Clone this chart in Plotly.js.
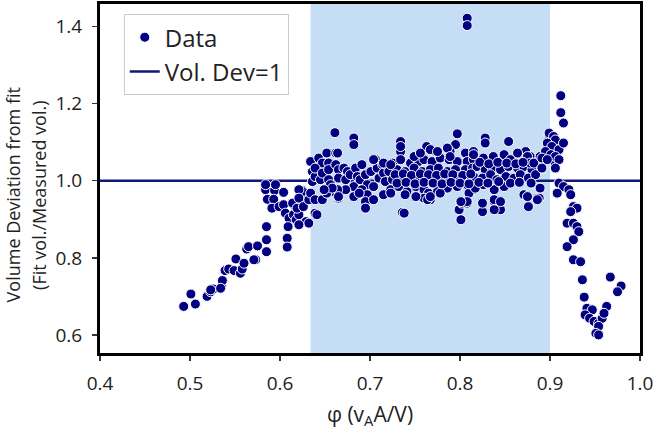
<!DOCTYPE html>
<html>
<head>
<meta charset="utf-8">
<script src="https://cdn.plot.ly/plotly-3.0.1.min.js"></script>
<style>html,body{margin:0;padding:0;background:#fff;}#chart{width:666px;height:434px;}</style>
</head>
<body>
<div id="chart"></div>
<script>
// ---- Data ----
const xTickVals = [0.4, 0.5, 0.6, 0.7, 0.8, 0.9, 1.0];
const yTickVals = [0.6, 0.8, 1.0, 1.2, 1.4];
const refLevel = 1.0;             // Vol. Dev = 1
const refSpan = [0.4, 1.0];       // line spans the whole x axis
const shadeSpan = [0.634, 0.9];   // highlighted phi band
const yTitleLines = ['Volume Deviation from fit', '(Fit vol./Measured vol.)'];

// rising branch (phi < 0.63)
const phiLow = [0.493,0.501,0.506,0.519,0.523,0.526,0.535,0.536,0.539,0.543,0.549,0.556,0.558,0.551,0.560,0.573,0.563,0.565,0.575,0.585,0.585,0.585,
  0.584,0.594,0.586,0.593,0.604,0.584,0.595,0.591,0.599,0.604,0.606,0.610,0.609,0.615,0.618,0.621,0.617,0.608,0.608,0.625,0.628,0.629,
  0.625,0.614,0.619,0.571,0.523,0.534,0.621,0.621,0.626,0.632,0.621];
const devLow = [0.674,0.706,0.680,0.700,0.712,0.719,0.725,0.741,0.767,0.771,0.767,0.760,0.771,0.797,0.786,0.795,0.823,0.829,0.831,0.816,0.847,0.881,
  0.977,0.975,0.952,0.952,0.970,0.990,0.990,0.929,0.933,0.938,0.916,0.903,0.881,0.912,0.899,0.912,0.933,0.851,0.828,0.975,0.955,0.894,
  0.972,0.942,0.929,0.795,0.717,0.721,0.977,0.955,0.933,0.890,0.886];

// plateau (0.63 - 0.9)
const phiMid = [
  0.636,0.645,0.645,0.639,0.632,
  0.661,0.682,0.682,0.634,0.643,0.652,0.662,0.647,0.654,
  0.636,0.639,0.645,0.639,0.647,0.654,0.654,0.662,0.665,0.665,0.671,0.675,0.673,0.678,0.684,0.686,0.682,0.689,0.691,0.695,0.697,0.701,0.706,0.708,0.710,0.714,0.715,0.717,0.721,0.704,0.691,0.697,0.695,0.695,0.665,0.673,0.682,0.688,0.656,0.660,0.664,
  0.641,0.634,0.639,0.647,0.652,0.658,0.649,
  0.734,0.734,0.797,0.795,0.764,0.773,0.754,0.786,0.789,0.806,0.815,
  0.725,0.734,0.745,0.754,0.760,0.769,0.778,0.788,0.797,0.808,0.815,
  0.721,0.730,0.739,0.749,0.758,0.767,0.776,0.786,0.795,0.806,0.814,
  0.725,0.734,0.743,0.752,0.762,0.771,0.780,0.789,0.799,0.808,0.815,
  0.723,0.732,0.741,0.751,0.760,0.765,0.775,0.786,0.797,0.808,0.815,
  0.739,0.751,0.760,0.767,0.778,
  0.736,0.738,0.801,0.799,0.808,0.801,0.810,0.802,0.808,
  0.828,0.828,0.854,
  0.815,0.826,0.837,0.849,0.856,0.865,0.873,0.878,0.888,
  0.819,0.828,0.836,0.845,0.854,0.864,0.871,0.880,0.891,
  0.815,0.825,0.834,0.841,0.851,0.860,0.867,0.876,0.884,
  0.817,0.826,0.838,0.849,0.871,0.875,0.886,0.889,
  0.825,0.825,0.838,0.845,0.845,0.838,0.876,0.888,
  0.664,0.734,0.763,0.767,0.775,0.786,0.789,0.704,0.715,0.723,0.749,0.756,0.864,0.875,0.878,0.889,
  0.665,0.695,0.704,0.715,0.723,0.751,0.764,0.767,0.808,0.801,0.825,0.838,0.845,0.875,0.886,
  0.728,0.737,0.746,0.756,0.765,0.774,0.783,0.792,0.803,0.812,
  0.730,0.740,0.750,0.760,0.770,0.780,0.790,0.800,0.810,
  0.822,0.832,0.842,0.852,0.862,0.870,0.882,
  0.821,0.831,0.843,0.856,0.866,0.879,
  0.808,0.808];
const devMid = [
  0.998,1.020,1.046,0.916,0.951,
  1.125,1.111,1.094,1.050,1.059,1.072,1.072,1.046,1.046,
  1.024,1.011,1.003,1.033,1.020,1.029,1.003,1.042,1.029,1.007,1.033,1.024,1.003,1.016,1.033,1.011,0.985,1.003,1.042,1.016,0.990,1.024,1.055,1.033,1.007,1.042,1.020,0.998,1.033,0.985,0.977,0.964,0.946,0.929,0.955,0.977,0.959,0.968,0.990,0.972,0.977,
  0.912,0.968,0.951,0.951,0.968,0.981,0.977,
  1.102,1.076,1.122,1.094,1.089,1.076,1.068,1.085,1.076,1.072,1.076,
  1.046,1.055,1.046,1.050,1.055,1.050,1.059,1.055,1.050,1.050,1.055,
  1.024,1.029,1.024,1.033,1.024,1.029,1.033,1.024,1.029,1.029,1.033,
  1.003,1.011,1.003,1.007,1.011,1.007,1.011,1.003,1.011,1.007,1.003,
  0.977,0.985,0.972,0.985,0.977,0.968,0.972,0.981,0.985,0.990,0.977,
  0.964,0.959,0.955,0.951,0.968,
  0.918,0.916,0.946,0.925,0.946,0.899,0.968,0.942,0.942,
  1.111,1.098,1.102,
  1.068,1.059,1.063,1.068,1.055,1.072,1.076,1.063,1.050,
  1.037,1.029,1.033,1.029,1.037,1.033,1.037,1.029,1.033,
  1.011,1.007,1.016,1.003,1.011,1.007,1.016,1.007,1.016,
  0.981,0.990,0.977,0.985,0.964,0.959,0.955,0.981,
  0.942,0.920,0.946,0.946,0.925,0.925,0.933,0.955,
  1.072,1.089,1.089,1.081,1.076,1.085,1.063,1.055,1.046,1.042,1.063,1.072,1.072,1.063,1.046,1.063,
  0.959,0.929,0.951,0.964,0.968,0.959,0.951,0.959,0.946,0.946,0.942,0.951,0.946,0.959,0.951,
  1.016,1.018,1.014,1.018,1.016,1.014,1.018,1.016,1.014,1.018,
  0.994,0.996,0.992,0.996,0.994,0.992,0.996,0.994,0.992,
  1.048,1.044,1.048,1.046,1.044,1.048,1.046,
  0.996,0.994,0.998,0.994,0.996,0.994,
  1.422,1.403];

// upturn and collapse (phi >= 0.89)
const phiHigh = [0.899,0.902,0.897,0.904,0.895,0.902,0.906,
  0.912,0.912,0.915,
  0.899,0.904,0.906,0.897,0.902,0.910,0.915,0.895,0.901,0.906,0.891,0.897,0.910,0.891,0.906,
  0.910,0.915,0.921,0.923,0.908,
  0.926,0.930,0.923,0.919,0.926,0.930,0.932,0.926,0.919,0.926,0.934,
  0.936,0.938,
  0.941,0.947,0.939,0.944,0.949,0.954,0.958,0.963,0.954,0.951,0.954,0.960,
  0.967,0.979,0.975];
const devHigh = [1.119,1.102,1.085,1.081,1.063,1.059,1.046,
  1.221,1.177,1.150,
  1.124,1.115,1.106,1.098,1.089,1.081,1.098,1.076,1.068,1.063,1.059,1.055,1.055,1.033,1.033,
  0.994,0.985,0.977,0.964,0.968,
  0.933,0.929,0.920,0.890,0.890,0.881,0.868,0.847,0.829,0.795,0.790,
  0.743,0.698,
  0.669,0.665,0.652,0.643,0.635,0.630,0.643,0.674,0.622,0.604,0.600,0.656,
  0.750,0.727,0.712];

const phi = phiLow.concat(phiMid, phiHigh);
const volDev = devLow.concat(devMid, devHigh);

// ---- Chart ----
const navy = '#000080';
const fontFam = '"Open Sans", "Noto Sans", sans-serif';
const textCol = '#222';

const traces = [
  {
    type: 'scatter', mode: 'lines', name: 'Vol. Dev=1',
    x: refSpan, y: refSpan.map(() => refLevel),
    line: {color: '#0d1a7a', width: 2.5},
    legendrank: 2, hoverinfo: 'skip'
  },
  {
    type: 'scatter', mode: 'markers', name: 'Data',
    x: phi, y: volDev,
    marker: {color: navy, size: 10, line: {color: '#ffffff', width: 1}},
    legendrank: 1
  }
];

const axisCommon = {
  showline: true, linecolor: '#000', linewidth: 3, mirror: true,
  ticks: 'outside', ticklen: 5, tickwidth: 1.3, tickcolor: '#333',
  showgrid: false, zeroline: false,
  tickfont: {family: fontFam, size: 19, color: textCol},
  tickformat: '.1f'
};

const layout = {
  width: 666, height: 434,
  margin: {l: 100, r: 26, t: 4, b: 81},
  paper_bgcolor: '#fff', plot_bgcolor: '#fff',
  font: {family: fontFam, color: textCol},
  showlegend: true,
  xaxis: Object.assign({}, axisCommon, {
    range: [0.4, 1.0], tickvals: xTickVals, ticklabelstandoff: 6,
    title: {text: 'φ (v<sub>A</sub>A/V)', font: {family: fontFam, size: 21, color: textCol}, standoff: 13}
  }),
  yaxis: Object.assign({}, axisCommon, {
    range: [0.553, 1.459], tickvals: yTickVals, ticklabelstandoff: 6
  }),
  legend: {
    x: 0.044, y: 0.971, xanchor: 'left', yanchor: 'top',
    bgcolor: 'rgba(255,255,255,0.9)', bordercolor: '#cccccc', borderwidth: 1,
    font: {family: fontFam, size: 24, color: textCol},
    tracegroupgap: 2
  },
  annotations: yTitleLines.map((t, i) => ({
    text: t, textangle: -90, showarrow: false,
    xref: 'paper', yref: 'paper', x: [-0.162, -0.113][i], y: 0.453,
    xanchor: 'center', yanchor: 'middle',
    font: {family: fontFam, size: 18, color: textCol}
  })),
  shapes: [{
    type: 'rect', xref: 'x', yref: 'paper',
    x0: shadeSpan[0], x1: shadeSpan[1], y0: 0, y1: 1,
    fillcolor: '#c6ddf6', line: {width: 0}, layer: 'below'
  }]
};

Plotly.newPlot('chart', traces, layout, {displayModeBar: false, staticPlot: true});
</script>
</body>
</html>
